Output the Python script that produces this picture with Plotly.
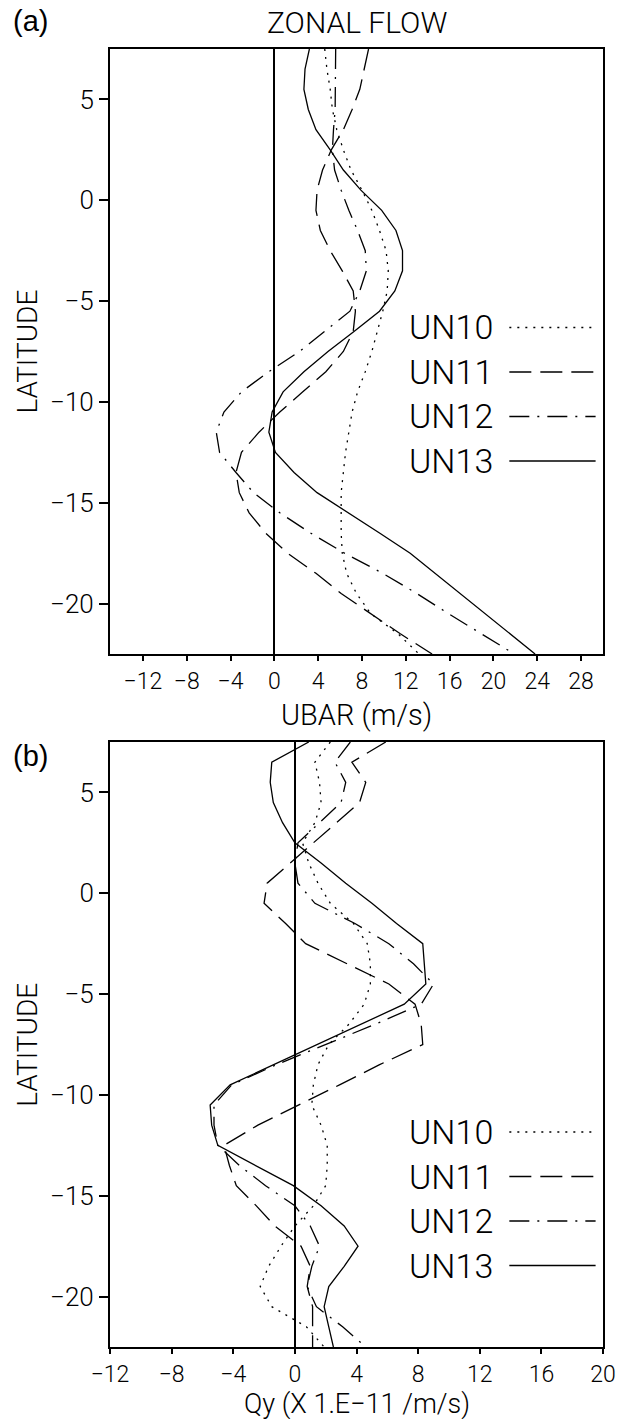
import plotly.graph_objects as go

# ---------------- data ----------------
lat = [7.5, 6.5, 5.5, 4.5, 3.5, 2.5, 1.5, 0.5, -0.5, -1.5, -2.5, -3.5, -4.5, -5.5, -6.5,
       -7.5, -8.5, -9.5, -10.5, -11.5, -12.5, -13.5, -14.5, -15.5, -16.5, -17.5, -18.5,
       -19.5, -20.5, -21.5, -22.5]

series_names = ["UN10", "UN11", "UN12", "UN13"]

# panel (a): zonal flow UBAR (m/s)
ubar_un10 = [4.6, 4.8, 5.1, 5.3, 5.7, 6.3, 7.0, 8.0, 8.9, 9.6, 10.2, 10.4, 10.3, 9.9, 9.4,
             8.9, 8.3, 7.6, 7.1, 6.8, 6.5, 6.3, 6.1, 6.1, 6.1, 6.2, 6.6, 7.5, 8.8, 11.3, 13.2]
ubar_un11 = [8.6, 8.2, 7.8, 7.1, 6.3, 5.2, 4.4, 3.9, 3.8, 4.2, 5.1, 6.2, 7.2, 7.4, 7.2,
             6.3, 4.7, 2.6, 0.5, -1.4, -3.0, -3.5, -3.2, -2.3, -0.8, 1.2, 3.8, 6.1, 8.8, 11.5, 14.4]
ubar_un12 = [5.6, 5.6, 5.6, 5.55, 5.4, 5.3, 5.5, 6.1, 6.8, 7.6, 8.3, 8.4, 7.8, 6.9, 4.6,
             2.3, -0.5, -3.0, -4.6, -5.3, -5.0, -3.5, -1.9, 0.5, 3.3, 6.4, 9.9, 13.0, 15.9, 18.9, 21.9]
ubar_un13 = [3.2, 2.8, 2.7, 3.1, 3.8, 5.1, 6.3, 7.9, 9.8, 11.1, 11.7, 11.7, 11.0, 9.6, 7.3,
             4.9, 2.7, 0.8, -0.2, -0.5, 0.1, 1.8, 3.9, 6.8, 9.6, 12.4, 14.7, 17.0, 19.2, 21.5, 23.8]

# panel (b): Qy (x 1.E-11 /m/s)
qy_un10 = [2.3, 1.3, 1.6, 1.7, 1.3, 0.5, 0.9, 1.5, 2.3, 3.8, 4.7, 4.9, 4.9, 4.5, 3.5,
           2.2, 1.5, 1.2, 1.1, 1.7, 2.1, 2.1, 2.0, 1.2, 0.0, -0.9, -1.7, -2.25, -1.5, 0.75, 1.9]
qy_un11 = [5.9, 3.7, 4.6, 4.2, 2.7, 1.2, -0.3, -1.8, -2.0, -0.6, 0.7, 3.4, 6.1, 7.8, 8.2,
           8.3, 5.5, 2.9, 0.2, -2.4, -4.6, -4.25, -3.8, -2.5, -1.3, 0.4, 1.0, 0.8, 1.15, 1.15, 1.15]
qy_un12 = [3.6, 2.6, 3.3, 3.0, 1.6, 0.2, 0.0, 0.2, 1.3, 3.9, 6.1, 7.7, 9.0, 8.2, 5.2,
           2.0, -1.2, -4.1, -5.25, -5.25, -5.0, -3.6, -1.9, 0.0, 1.0, 1.6, 1.1, 0.8, 1.4, 3.1, 4.6]
qy_un13 = [0.9, -1.5, -1.6, -1.4, -0.8, 0.0, 1.7, 3.3, 5.0, 6.6, 8.3, 8.4, 8.5, 7.1, 4.3,
           1.5, -1.3, -4.2, -5.5, -5.4, -5.0, -2.6, -0.1, 1.7, 3.2, 4.1, 3.2, 2.2, 1.9, 2.2, 2.5]

ubar_ticks = [-12, -8, -4, 0, 4, 8, 12, 16, 20, 24, 28]
qy_ticks = [-12, -8, -4, 0, 4, 8, 12, 16, 20]
lat_ticks = [5, 0, -5, -10, -15, -20]

# ---------------- styling ----------------
dashes = ["2px,6px", "22px,9px", "20px,8px,2px,8px", "solid"]
FONT = "Roboto"
xtick_font = dict(family=FONT, size=23, color="black", weight=300)
ytick_font = dict(family=FONT, size=26, color="black", weight=300)

fig = go.Figure()
panel_a = [ubar_un10, ubar_un11, ubar_un12, ubar_un13]
panel_b = [qy_un10, qy_un11, qy_un12, qy_un13]
for name, vals, d in zip(series_names, panel_a, dashes):
    fig.add_trace(go.Scatter(x=vals, y=lat, mode="lines", name=name, showlegend=False,
                             line=dict(color="black", width=1.3, dash=d),
                             xaxis="x", yaxis="y"))
for name, vals, d in zip(series_names, panel_b, dashes):
    fig.add_trace(go.Scatter(x=vals, y=lat, mode="lines", name=name, showlegend=False,
                             line=dict(color="black", width=1.3, dash=d),
                             xaxis="x2", yaxis="y2"))

axis_common = dict(showline=True, mirror=True, linewidth=2, linecolor="black",
                   ticks="outside", tickwidth=1.5, tickcolor="black", showgrid=False)

fig.update_layout(
    width=628, height=1419,
    margin=dict(l=110, r=18, t=49, b=72),
    paper_bgcolor="white", plot_bgcolor="white",
    xaxis=dict(domain=[0, 1], range=[-15, 30], tickvals=ubar_ticks, anchor="y",
               zeroline=True, zerolinewidth=1.5, zerolinecolor="black",
               ticklen=5, tickfont=xtick_font, **axis_common),
    yaxis=dict(domain=[0.5339, 1], range=[-22.5, 7.5], tickvals=lat_ticks, anchor="x",
               zeroline=False, ticklen=9, tickfont=ytick_font, **axis_common),
    xaxis2=dict(domain=[0, 1], range=[-12, 20], tickvals=qy_ticks, anchor="y2",
                zeroline=True, zerolinewidth=2, zerolinecolor="black",
                ticklen=5, tickfont=xtick_font, **axis_common),
    yaxis2=dict(domain=[0, 0.4661], range=[-22.5, 7.5], tickvals=lat_ticks, anchor="x2",
                zeroline=False, ticklen=9, tickfont=ytick_font, **axis_common),
)

# ---------------- texts ----------------
ann = []
label_font = dict(family="Liberation Sans, Arial, sans-serif", size=29, color="black")


def txt(text, x, y, font, angle=0, xref="paper", yref="paper", xanchor="center"):
    return dict(text=text, x=x, y=y, xref=xref, yref=yref, xanchor=xanchor,
                yanchor="middle", textangle=angle, showarrow=False, font=font)


ann.append(txt("(a)", -0.162, 1.0215, label_font))
ann.append(txt("(b)", -0.162, 0.4553, label_font))
ann.append(txt("ZONAL FLOW", 0.5, 1.0208, dict(family=FONT, size=30, color="black", weight=300)))
ann.append(txt("UBAR (m/s)", 0.5, 0.4869, dict(family=FONT, size=29, color="black", weight=300)))
ann.append(txt("Qy (X 1.E\u221211 /m/s)", 0.5, -0.0439,
               dict(family=FONT, size=27, color="black", weight=300)))
for yy in (0.767, 0.233):
    ann.append(txt("LATITUDE", -0.168, yy, dict(family=FONT, size=28, color="black", weight=300),
                   angle=-90))

# ---------------- legends (text left, line sample right) ----------------
leg_a = [0.5397, 0.4661, 0.3926, 0.3190]
leg_b = [0.3554, 0.2818, 0.2083, 0.1347]
shapes = []
for (xr, yr, ys) in (("x domain", "y domain", leg_a), ("x2 domain", "y2 domain", leg_b)):
    for name, d, yy in zip(series_names, dashes, ys):
        ann.append(txt(name, 0.602, yy, dict(family=FONT, size=34, color="black", weight=300),
                       xref=xr, yref=yr, xanchor="left"))
        shapes.append(dict(type="line", xref=xr, yref=yr, x0=0.81, x1=0.985, y0=yy, y1=yy,
                           line=dict(color="black", width=1.3, dash=d)))

fig.update_layout(annotations=ann, shapes=shapes)
fig.write_html("out.html")
